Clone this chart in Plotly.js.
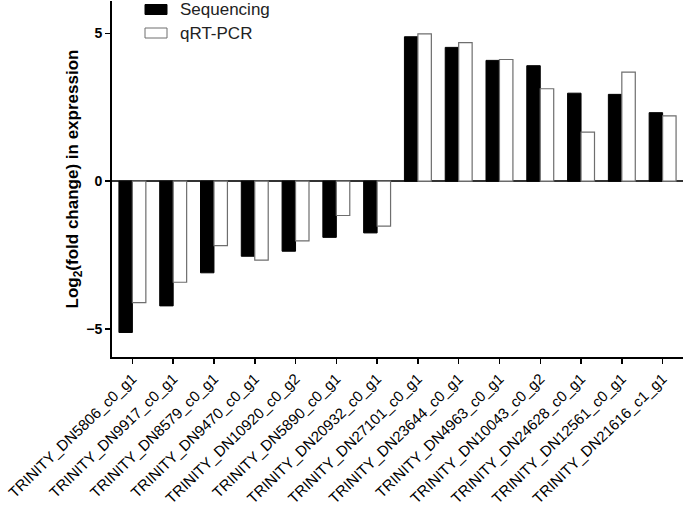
<!DOCTYPE html>
<html>
<head>
<meta charset="utf-8">
<script src="https://cdn.plot.ly/plotly-3.0.1.min.js"></script>
<style>
  html, body { margin: 0; padding: 0; background: #fff; }
  #chart { width: 685px; height: 513px; }
</style>
</head>
<body>
<div id="chart"></div>
<script>
// genes on the x axis
const genes = [
    'TRINITY_DN5806_c0_g1', 'TRINITY_DN9917_c0_g1', 'TRINITY_DN8579_c0_g1',
    'TRINITY_DN9470_c0_g1', 'TRINITY_DN10920_c0_g2', 'TRINITY_DN5890_c0_g1',
    'TRINITY_DN20932_c0_g1', 'TRINITY_DN27101_c0_g1', 'TRINITY_DN23644_c0_g1',
    'TRINITY_DN4963_c0_g1', 'TRINITY_DN10043_c0_g2', 'TRINITY_DN24628_c0_g1',
    'TRINITY_DN12561_c0_g1', 'TRINITY_DN21616_c1_g1'
];

// log2 fold change
const sequencing = [-5.12, -4.22, -3.10, -2.54, -2.37, -1.90, -1.75, 4.89, 4.53, 4.09, 3.91, 2.98, 2.94, 2.32];
const qrtpcr     = [-4.11, -3.42, -2.18, -2.67, -2.02, -1.16, -1.52, 4.99, 4.69, 4.12, 3.13, 1.66, 3.69, 2.21];

const yTicks = [-5, 0, 5];

const font = 'Arial, "Liberation Sans", sans-serif';
const M = { l: 112, r: 2, t: 1, b: 156 };
const W = 685, H = 513;

// pixel -> plot-area paper coords (for the hand-made legend)
const px = x => (x - M.l) / (W - M.l - M.r);
const py = y => (H - M.b - y) / (H - M.t - M.b);

const traces = [
    {
        x: genes, y: sequencing, type: 'bar', name: 'Sequencing',
        marker: { color: '#000000', line: { color: '#000000', width: 1 } }
    },
    {
        x: genes, y: qrtpcr, type: 'bar', name: 'qRT-PCR',
        marker: { color: '#ffffff', line: { color: '#6e6e6e', width: 1.2 } }
    }
];

// legend: wide swatches like the original
const legendItems = [
    { name: 'Sequencing', fill: '#000', line: '#000', y: 9.5 },
    { name: 'qRT-PCR', fill: '#fff', line: '#6e6e6e', y: 33 }
];

const layout = {
    width: W, height: H,
    paper_bgcolor: '#fff', plot_bgcolor: '#fff',
    font: { family: font, color: '#000', size: 13 },
    margin: M,
    barmode: 'group', bargap: 0.34, bargroupgap: 0,
    showlegend: false,
    shapes: legendItems.map(it => ({
        type: 'rect', xref: 'paper', yref: 'paper',
        x0: px(145), x1: px(167), y0: py(it.y + 5), y1: py(it.y - 5),
        fillcolor: it.fill, line: { color: it.line, width: 1 }
    })),
    annotations: legendItems.map(it => ({
        xref: 'paper', yref: 'paper', x: px(179), y: py(it.y),
        xanchor: 'left', yanchor: 'middle', showarrow: false, borderpad: 0,
        text: it.name, font: { size: 17, color: '#222' }
    })),
    xaxis: {
        type: 'category',
        showline: true, linecolor: '#000', linewidth: 2,
        ticks: 'outside', ticklen: 5, tickwidth: 1.5, tickcolor: '#000',
        tickangle: -44, tickfont: { size: 15, color: '#000' },
        showgrid: false, zeroline: false
    },
    yaxis: {
        range: [-5.95, 6.1],
        tickvals: yTicks,
        ticks: 'outside', ticklen: 5, tickwidth: 1.5, tickcolor: '#000',
        tickfont: { size: 14, color: '#000', weight: 'bold' },
        showline: true, linecolor: '#000', linewidth: 2,
        showgrid: false,
        zeroline: true, zerolinecolor: '#333', zerolinewidth: 1.5,
        title: {
            text: 'Log<sub>2</sub>(fold change) in expression',
            font: { size: 17, color: '#000', weight: 'bold' },
            standoff: 3
        }
    }
};

Plotly.newPlot('chart', traces, layout, { displayModeBar: false, staticPlot: true });
</script>
</body>
</html>
